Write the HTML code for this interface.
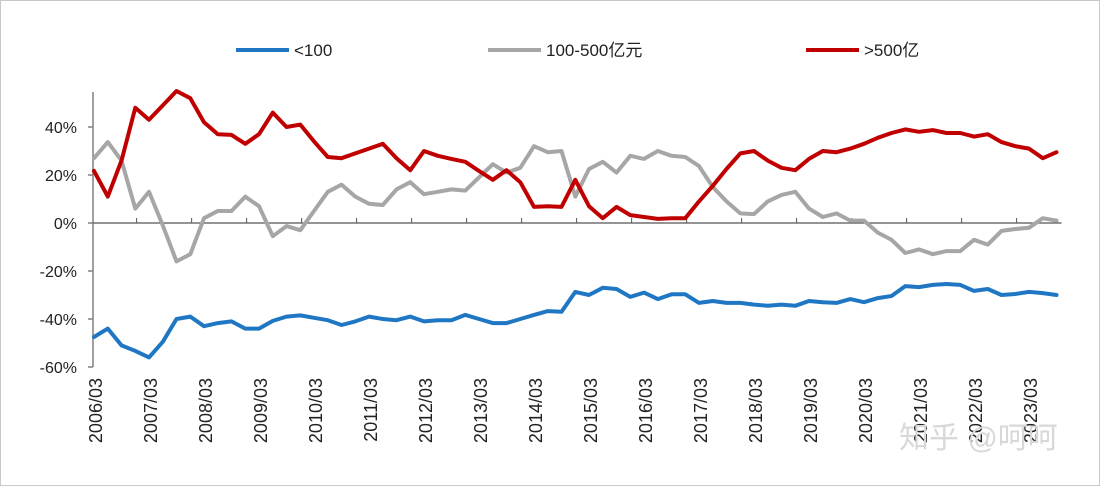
<!DOCTYPE html>
<html><head><meta charset="utf-8"><style>
body{margin:0;background:#fff;}
#wrap{position:relative;width:1100px;height:486px;box-sizing:border-box;border:1px solid #c8c8c8;background:#fff;overflow:hidden;}
svg text{font-family:"Liberation Sans","Noto Sans CJK SC",sans-serif;}
</style></head><body>
<div id="wrap">
<svg id="chart" width="1100" height="486"></svg>
</div>
<script>
const categories=[];for(let y=2006;y<=2023;y++){["03","06","09","12"].forEach(q=>{if(!(y===2023&&q==="12"))categories.push(y+"/"+q);});}
const tickLabels=["-60%","-40%","-20%","0%","20%","40%"];
const tickValues=[-60,-40,-20,0,20,40];
const seriesSmall=[-47.5,-44,-51,-53.3,-56,-49.5,-40,-39,-43,-41.7,-41,-44,-44,-40.8,-39,-38.5,-39.5,-40.5,-42.5,-41,-39,-40,-40.5,-39,-41,-40.5,-40.5,-38.3,-40,-41.7,-41.7,-40,-38.3,-36.7,-37,-28.7,-30,-27,-27.5,-30.8,-29,-31.7,-29.7,-29.7,-33.3,-32.5,-33.3,-33.3,-34,-34.5,-34,-34.5,-32.5,-33,-33.3,-31.7,-33,-31.3,-30.4,-26.3,-26.7,-25.8,-25.4,-25.8,-28.3,-27.5,-30,-29.6,-28.7,-29.2,-30];
const seriesMid=[27,33.7,26,6,13,-1,-16,-13,2,5,5,11,7,-5.5,-1.3,-3,5,13,16,11,8,7.5,14,17,12,13,14,13.5,19,24.5,21,23,32,29.5,30,11,22.5,25.5,21,28,26.7,30,28,27.5,23.7,15,9,4,3.7,9,11.7,13,6,2.5,4,1,1,-4,-7,-12.5,-11,-13,-11.7,-11.7,-7,-9,-3.3,-2.5,-2,2,1];
const seriesLarge=[21.7,11,26,48,43,49,55,52,42,37,36.7,33,37,46,40,41,34,27.5,27,29,31,33,27,22,30,28,26.7,25.5,21.7,18,22,17,6.7,7,6.7,18,7,2,6.7,3.3,2.5,1.7,2,2,9,15.5,22.5,29,30,26,23,22,26.7,30,29.5,31,33,35.5,37.5,39,38,38.7,37.5,37.5,36,37,33.7,32,31,27,29.5];
const seriesNames=["<100","100-500亿元",">500亿"];
const colors=["#1f77c4","#a6a6a6","#c00000"];

const svg=document.getElementById('chart');const NS="http://www.w3.org/2000/svg";
const x0=93,step=13.75,yZero=222,yPer=2.4;
const xs=i=>x0+i*step;const ys=v=>yZero-v*yPer;
function mk(t,a,p){const e=document.createElementNS(NS,t);for(const k in a)e.setAttribute(k,a[k]);(p||svg).appendChild(e);return e;}
const ya=mk('line',{x1:92,y1:91,x2:92,y2:ys(-60),stroke:'#808080','stroke-width':1.5});


tickValues.forEach((v,i)=>{
 const t=mk('line',{x1:87,y1:ys(v),x2:92,y2:ys(v),stroke:'#808080','stroke-width':1.5});
 
 
 const tx=mk('text',{x:76,y:ys(v)+6,'text-anchor':'end','font-size':16,fill:'#222'});
 tx.textContent=tickLabels[i];
 
 
});
const xa=mk('line',{x1:92,y1:yZero,x2:xs(categories.length-1)+5,y2:yZero,stroke:'#555','stroke-width':1.2});


categories.forEach((c,i)=>{
 if(i%4===0&&i>0){const t=mk('line',{x1:xs(i)-step*0.9,y1:yZero-5,x2:xs(i)-step*0.9,y2:yZero,stroke:'#555','stroke-width':1});
 
 }
 if(c.endsWith('/03')){
  const lx=xs(i)+8,ly=377;
  const tx=mk('text',{x:lx,y:ly,transform:`rotate(-90 ${lx} ${ly})`,'text-anchor':'end','font-size':18,fill:'#222'});
  tx.textContent=c;
  
  
 }
});
[seriesSmall,seriesMid,seriesLarge].forEach((s,k)=>{
 const d=s.map((v,i)=>(i?'L':'M')+xs(i).toFixed(1)+' '+ys(v).toFixed(1)).join(' ');
 const p=mk('path',{d:d,fill:'none',stroke:colors[k],'stroke-width':4,'stroke-linejoin':'round','stroke-linecap':'round'});
 
 
});
const legX=[235,487,805];
seriesNames.forEach((n,k)=>{
 const g=mk('g',{});
 
 
 mk('line',{x1:legX[k],y1:49,x2:legX[k]+53,y2:49,stroke:colors[k],'stroke-width':4},g);
 const t=mk('text',{x:legX[k]+58,y:55,'font-size':17,fill:'#222'},g);
 t.textContent=n;
});
const wm=mk('text',{x:898,y:447,'font-size':30,fill:'#d8d8d8'});
wm.textContent="知乎 @呵呵";


</script>
</body></html>
